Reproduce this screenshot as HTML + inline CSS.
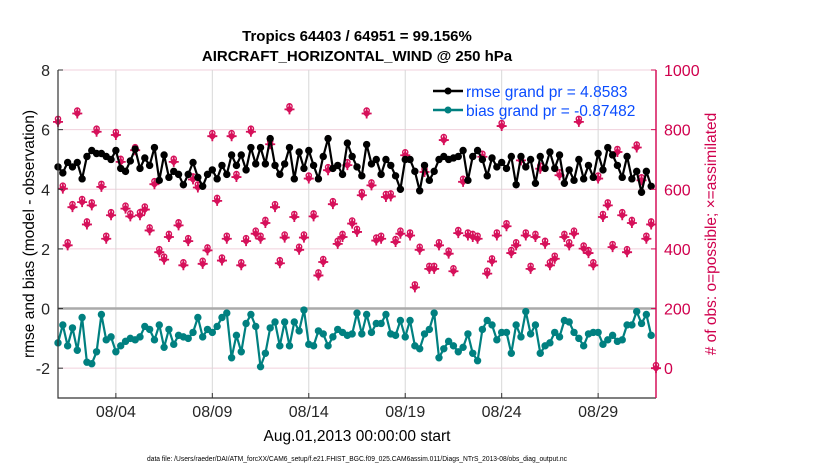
<!DOCTYPE html>
<html><head><meta charset="utf-8"><style>
html,body{margin:0;padding:0;background:#fff;}
svg{display:block;font-family:"Liberation Sans",Arial,sans-serif;}
</style></head><body>
<svg id="chart" width="830" height="470" viewBox="0 0 830 470" xmlns="http://www.w3.org/2000/svg">
<rect width="830" height="470" fill="#fff"/>
<text x="357" y="41" text-anchor="middle" font-size="15" font-weight="bold">Tropics 64403 / 64951 = 99.156%</text>
<text x="357" y="61" text-anchor="middle" font-size="15" font-weight="bold">AIRCRAFT_HORIZONTAL_WIND @ 250 hPa</text>
<g id="grid"></g>
<g id="marks"></g>
<g id="axes"></g>
<text transform="translate(34,234) rotate(-90)" text-anchor="middle" font-size="15.5">rmse and bias (model - observation)</text>
<text fill="#d0004d" transform="translate(716,234) rotate(-90)" text-anchor="middle" font-size="15.5"># of obs: o=possible; ×=assimilated</text>
<text x="357" y="441" text-anchor="middle" font-size="15.5">Aug.01,2013 00:00:00 start</text>
<text x="357" y="461" text-anchor="middle" font-size="7" textLength="420" lengthAdjust="spacingAndGlyphs">data file: /Users/raeder/DAI/ATM_forcXX/CAM6_setup/f.e21.FHIST_BGC.f09_025.CAM6assim.011/Diags_NTrS_2013-08/obs_diag_output.nc</text>
<g>
<line x1="433" y1="91" x2="463" y2="91" stroke="#000" stroke-width="2.5"/>
<circle cx="448" cy="91" r="3.5" fill="#000"/>
<text x="466" y="97" font-size="15.5" fill="#0a4cff">rmse grand pr = 4.8583</text>
<line x1="433" y1="110" x2="463" y2="110" stroke="#008080" stroke-width="2.5"/>
<circle cx="448" cy="110" r="3.5" fill="#008080"/>
<text x="466" y="116" font-size="15.5" fill="#0a4cff">bias grand pr = -0.87482</text>
</g>
</svg>
<script>
const rmse = [4.75,4.55,4.9,4.75,4.9,4.35,5.1,5.3,5.2,5.2,5.1,5.0,5.3,4.7,4.6,4.95,5.35,4.7,5.05,4.8,5.4,4.3,5.15,4.4,4.6,4.5,4.15,4.5,4.9,4.4,4.1,4.5,4.65,4.35,4.8,4.5,5.15,4.8,5.15,4.65,5.4,4.85,5.4,4.85,5.7,4.8,4.5,4.85,5.4,4.35,5.25,4.7,5.3,4.8,4.35,5.1,5.7,4.7,4.8,4.5,5.55,5.1,4.75,
4.45,5.5,4.85,5.0,4.5,5.0,4.8,4.45,4.0,5.0,5.0,4.6,3.95,4.8,4.3,4.6,5.0,5.1,5.0,5.05,5.1,5.3,4.3,5.1,5.3,5.0,4.45,5.05,4.75,4.9,4.7,5.1,4.15,5.1,4.75,5.0,4.2,5.1,4.7,5.25,4.7,5.15,4.2,4.65,4.3,5.0,4.35,4.8,4.4,5.2,4.65,5.4,5.15,4.8,4.4,5.1,4.35,4.6,3.9,4.6,4.1];
const bias = [-1.15,-0.55,-1.25,-0.65,-1.4,-0.3,-1.8,-1.85,-1.45,-0.2,-1.05,-0.95,-1.45,-1.25,-1.1,-1.0,-1.05,-0.95,-0.6,-0.7,-1.05,-0.55,-1.3,-0.7,-1.2,-0.9,-0.95,-1.0,-0.8,-0.3,-0.95,-0.7,-0.8,-0.6,-0.3,-0.15,-1.65,-0.9,-1.45,-0.5,-0.2,-0.6,-1.95,-1.5,-0.65,-0.45,-1.25,-0.45,-1.25,-0.45,-0.75,-0.05,-1.2,-1.25,-0.75,-0.85,-1.25,-0.95,-0.7,-0.8,-0.9,-0.85,-0.15,
-0.85,-0.2,-0.8,-0.5,-0.5,-0.2,-0.85,-0.9,-0.4,-0.95,-0.4,-1.25,-1.35,-0.85,-0.7,-0.15,-1.65,-1.35,-1.1,-1.25,-1.45,-1.3,-0.85,-1.5,-1.75,-0.7,-0.4,-0.55,-1.05,-0.8,-0.8,-1.5,-0.55,-0.95,-0.1,-0.85,-0.55,-1.5,-1.25,-1.15,-0.8,-0.95,-0.4,-0.45,-0.8,-1.0,-1.25,-0.85,-0.8,-0.8,-1.2,-1.05,-0.9,-1.1,-1.05,-0.55,-0.55,-0.1,-0.5,-0.2,-0.9];
const nobs = [826,602,412,540,854,557,482,546,793,608,434,513,782,692,535,509,731,513,532,462,617,389,364,440,692,479,345,426,633,606,350,395,778,561,361,434,778,641,345,426,793,451,434,487,751,540,352,438,868,507,397,438,636,509,311,356,664,550,417,440,681,485,457,
580,854,613,428,434,574,576,423,451,714,445,271,397,658,333,333,412,765,384,325,453,625,445,440,434,709,317,358,445,812,476,386,412,697,445,333,440,669,417,345,367,647,440,412,451,826,401,386,345,636,507,546,406,725,513,389,487,740,630,434,482,0];
const xTickLabels = ["08/04","08/09","08/14","08/19","08/24","08/29"];
const xTickDays = [3,8,13,18,23,28];
const yTickLabels = [8,6,4,2,0,-2];
const y2TickLabels = [1000,800,600,400,200,0];

const L=58,R=656,T=70,B=398;
const xs = d => L + (d/31)*(R-L);
const ys = v => T + (8-v)/11*(B-T);
const y2s = n => ys(n/100-2);
const NS="http://www.w3.org/2000/svg";
function mk(tag,attrs,parent){const e=document.createElementNS(NS,tag);for(const k in attrs)e.setAttribute(k,attrs[k]);parent.appendChild(e);return e;}
const grid=document.getElementById('grid'),marks=document.getElementById('marks'),axes=document.getElementById('axes');

y2TickLabels.forEach(n=>{const g=mk('line',{x1:L,x2:R,y1:y2s(n),y2:y2s(n),stroke:'#f0d0dc','stroke-width':1},grid);

});
xTickDays.forEach(d=>{const g=mk('line',{x1:xs(d),x2:xs(d),y1:T,y2:B,stroke:'#d8d8d8','stroke-width':1},grid);

});
const z=mk('line',{x1:L,x2:R,y1:ys(0),y2:ys(0),stroke:'#aaa','stroke-width':2.5},grid);



nobs.forEach((n,i)=>{const cx=xs(i*0.25),cy=y2s(n);
const g=mk('g',{},marks);


mk('circle',{cx:cx,cy:cy-3,r:2.6,fill:'none',stroke:'#d6105a','stroke-width':1.4},g);
mk('path',{d:`M${cx-5} ${cy}H${cx+5}M${cx} ${cy-5}V${cy+5}`,stroke:'#d6105a','stroke-width':1.8},g);
mk('path',{d:`M${cx} ${cy-4}L${cx+4} ${cy}L${cx} ${cy+4}L${cx-4} ${cy}Z`,fill:'#d6105a'},g);
});

function series(arr,color,name){
const pts=arr.map((v,i)=>xs(i*0.25).toFixed(1)+','+ys(v).toFixed(1)).join(' ');
const pl=mk('polyline',{points:pts,fill:'none',stroke:color,'stroke-width':2.2,'stroke-linejoin':'round'},marks);


arr.forEach((v,i)=>{const c=mk('circle',{cx:xs(i*0.25),cy:ys(v),r:3.7,fill:color},marks);

});
}
series(bias,'#008080','bias');
series(rmse,'#000','rmse');

const la=mk('path',{d:`M${L} ${T}V${B}H${R}`,fill:'none',stroke:'#333','stroke-width':1.2},axes);


const ra=mk('line',{x1:R,x2:R,y1:T,y2:B,stroke:'#d6105a','stroke-width':1.5},axes);


yTickLabels.forEach(v=>{mk('line',{x1:L,x2:L+5,y1:ys(v),y2:ys(v),stroke:'#333'},axes);
const t=mk('text',{x:L-8,y:ys(v)+6,'text-anchor':'end','font-size':16,fill:'#262626'},axes);t.textContent=v;

});
y2TickLabels.forEach(n=>{mk('line',{x1:R-5,x2:R,y1:y2s(n),y2:y2s(n),stroke:'#d6105a'},axes);
const t=mk('text',{x:R+8,y:y2s(n)+6,'font-size':16,fill:'#d0004d'},axes);t.textContent=n;

});
xTickDays.forEach((d,i)=>{mk('line',{x1:xs(d),x2:xs(d),y1:B,y2:B-5,stroke:'#333'},axes);
const t=mk('text',{x:xs(d),y:B+19,'text-anchor':'middle','font-size':16,fill:'#262626'},axes);t.textContent=xTickLabels[i];

});
</script>
</body></html>
